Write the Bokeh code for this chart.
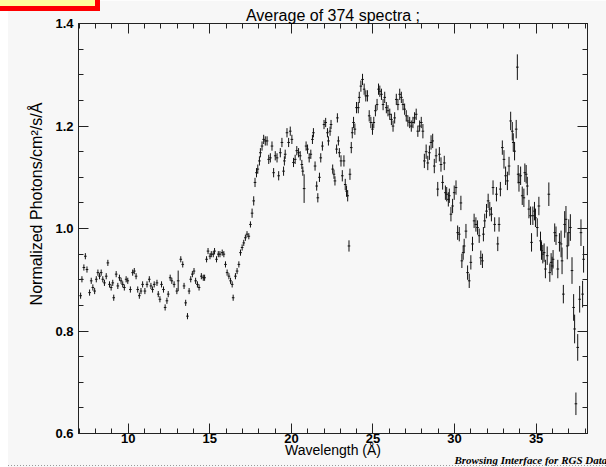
import numpy as np
from bokeh.plotting import figure
from bokeh.models import (LinearAxis, SingleIntervalTicker, Range1d, Title,
                          ColumnDataSource, PrintfTickFormatter,
                          CustomJSTickFormatter, InlineStyleSheet)
from bokeh.embed import file_html
from bokeh.resources import INLINE

# Averaged RGS spectrum: bin centre (Angstrom) and normalized flux
wavelength = [
    7.08, 7.16, 7.28, 7.37, 7.47, 7.63, 7.73, 7.83, 7.94, 8.04, 8.14, 8.24, 8.34, 8.44,
    8.54, 8.65, 8.75, 8.85, 8.95, 9.05, 9.11, 9.26, 9.36, 9.46, 9.56, 9.66, 9.76, 9.87,
    9.97, 10.13, 10.27, 10.37, 10.48, 10.58, 10.68, 10.78, 10.88, 11.02, 11.15, 11.29,
    11.39, 11.49, 11.59, 11.76, 11.84, 11.94, 12.04, 12.16, 12.26, 12.37, 12.45, 12.57,
    12.67, 12.81, 12.98, 13.06, 13.22, 13.34, 13.42, 13.52, 13.63, 13.73, 13.83, 13.93,
    14.03, 14.13, 14.24, 14.34, 14.48, 14.60, 14.68, 14.80, 14.89, 15.01, 15.09, 15.21,
    15.29, 15.41, 15.52, 15.62, 15.76, 15.86, 15.96, 16.06, 16.17, 16.27, 16.37, 16.43,
    16.57, 16.67, 16.78, 16.88, 16.98, 17.08, 17.18, 17.28, 17.39, 17.49, 17.59, 17.69,
    17.77, 17.86, 17.94, 18.04, 18.10, 18.20, 18.30, 18.40, 18.51, 18.61, 18.71, 18.81,
    18.91, 19.01, 19.12, 19.22, 19.32, 19.42, 19.52, 19.57, 19.62, 19.73, 19.83, 19.93,
    20.03, 20.13, 20.23, 20.33, 20.44, 20.54, 20.64, 20.70, 20.78, 20.90, 20.99, 21.09,
    21.19, 21.29, 21.35, 21.45, 21.55, 21.62, 21.72, 21.80, 21.90, 22.00, 22.10, 22.21,
    22.27, 22.37, 22.43, 22.53, 22.61, 22.67, 22.77, 22.82, 22.88, 22.94, 23.04, 23.12,
    23.22, 23.30, 23.38, 23.45, 23.53, 23.59, 23.67, 23.73, 23.81, 23.89, 23.99, 24.10,
    24.16, 24.26, 24.36, 24.46, 24.56, 24.66, 24.77, 24.87, 24.97, 25.05, 25.15, 25.25,
    25.34, 25.42, 25.52, 25.62, 25.72, 25.82, 25.92, 26.03, 26.13, 26.23, 26.33, 26.43,
    26.53, 26.64, 26.74, 26.84, 26.94, 27.04, 27.14, 27.25, 27.35, 27.45, 27.55, 27.65,
    27.75, 27.86, 27.96, 28.06, 28.15, 28.26, 28.36, 28.46, 28.56, 28.66, 28.76, 28.87,
    28.97, 29.07, 29.17, 29.27, 29.37, 29.44, 29.52, 29.62, 29.68, 29.78, 29.88, 29.98,
    30.09, 30.19, 30.29, 30.39, 30.45, 30.53, 30.59, 30.70, 30.80, 30.90, 31.00, 31.10,
    31.20, 31.31, 31.41, 31.51, 31.61, 31.71, 31.77, 31.85, 31.96, 32.06, 32.16, 32.26,
    32.36, 32.46, 32.57, 32.65, 32.73, 32.81, 32.93, 33.03, 33.13, 33.24, 33.34, 33.44,
    33.54, 33.60, 33.85, 33.68, 33.78, 33.90, 33.95, 34.05, 34.15, 34.25, 34.31, 34.39,
    34.46, 34.56, 34.66, 34.72, 34.80, 34.90, 34.96, 35.07, 35.17, 35.27, 35.33, 35.41,
    35.49, 35.57, 35.68, 35.78, 35.84, 35.92, 35.98, 36.04, 36.14, 36.22, 36.33, 36.43,
    36.53, 36.59, 36.67, 36.75, 36.83, 36.91, 37.00, 37.10, 37.20, 37.30, 37.36, 37.44,
    37.55, 37.67, 37.75, 37.85, 37.91,
]
flux = [
    0.869, 0.901, 0.924, 0.946, 0.920, 0.875, 0.898, 0.885, 0.878, 0.901, 0.914, 0.907, 0.914, 0.901,
    0.894, 0.907, 0.933, 0.891, 0.885, 0.894, 0.865, 0.911, 0.888, 0.904, 0.898, 0.891, 0.885, 0.901,
    0.898, 0.881, 0.914, 0.917, 0.907, 0.881, 0.869, 0.878, 0.891, 0.878, 0.891, 0.901,
    0.888, 0.881, 0.891, 0.894, 0.872, 0.862, 0.891, 0.881, 0.846, 0.859, 0.872, 0.904,
    0.898, 0.891, 0.878, 0.898, 0.940, 0.930, 0.888, 0.855, 0.829, 0.878, 0.901, 0.911,
    0.917, 0.898, 0.891, 0.885, 0.907, 0.904, 0.904, 0.940, 0.956, 0.946, 0.950, 0.950,
    0.956, 0.940, 0.950, 0.950, 0.953, 0.950, 0.930, 0.914, 0.907, 0.898, 0.891, 0.865,
    0.907, 0.917, 0.930, 0.953, 0.963, 0.972, 0.982, 0.989, 0.985, 1.008, 1.030, 1.054,
    1.090, 1.109, 1.116, 1.132, 1.148, 1.161, 1.174, 1.171, 1.171, 1.135, 1.138, 1.161,
    1.109, 1.142, 1.138, 1.103, 1.148, 1.168, 1.112, 1.132, 1.145, 1.187, 1.168, 1.190,
    1.174, 1.129, 1.135, 1.152, 1.148, 1.142, 1.125, 1.112, 1.078, 1.161, 1.155, 1.138,
    1.145, 1.174, 1.187, 1.122, 1.083, 1.060, 1.100, 1.138, 1.161, 1.203, 1.207, 1.187,
    1.171, 1.190, 1.203, 1.116, 1.106, 1.093, 1.155, 1.216, 1.171, 1.148, 1.132, 1.103,
    1.132, 1.086, 1.073, 1.064, 0.966, 1.106, 1.158, 1.187, 1.207, 1.194, 1.236, 1.236,
    1.256, 1.278, 1.291, 1.272, 1.259, 1.259, 1.220, 1.207, 1.194, 1.207, 1.230, 1.242,
    1.272, 1.268, 1.262, 1.242, 1.256, 1.236, 1.230, 1.223, 1.213, 1.200, 1.216, 1.252,
    1.242, 1.262, 1.256, 1.242, 1.233, 1.220, 1.210, 1.207, 1.200, 1.207, 1.216, 1.223,
    1.190, 1.200, 1.207, 1.190, 1.132, 1.150, 1.128, 1.148, 1.168, 1.171, 1.122, 1.142,
    1.077, 1.145, 1.125, 1.090, 1.128, 1.070, 1.067, 1.057, 1.064, 1.028, 1.044, 1.070,
    1.080, 0.992, 0.989, 1.050, 0.937, 0.953, 0.966, 0.995, 0.914, 0.898, 0.934, 0.970,
    1.015, 1.008, 1.002, 0.986, 0.943, 0.937, 0.989, 1.015, 1.034, 1.054, 1.038, 1.028,
    1.080, 1.008, 1.067, 0.970, 1.008, 1.077, 1.158, 1.135, 1.103, 1.093, 1.122, 1.210,
    1.190, 1.168, 1.315, 1.151, 1.194, 1.106, 1.090, 1.103, 1.064, 1.060, 1.109, 1.106,
    1.083, 1.038, 1.025, 0.973, 1.025, 1.034, 1.021, 1.002, 1.044, 0.976, 0.957, 0.950,
    0.953, 0.921, 0.947, 1.067, 0.914, 0.934, 0.927, 0.940, 0.992, 0.986, 0.921, 0.973,
    0.970, 0.937, 0.872, 1.008, 1.018, 0.966, 0.992, 1.002, 0.918, 0.846, 0.804, 0.658,
    0.768, 0.862, 0.992, 0.872, 0.940,
]

# 1-sigma errors, by wavelength band, plus a few noisier bins
err_band_edges = [6.9, 17.5, 23.0, 28.0, 33.0, 36.5, 38.2]
err_band_values = [0.006, 0.009, 0.011, 0.014, 0.018, 0.026]
noisy_bin_wavelength = [13.06, 20.78, 33.85, 35.78, 36.67, 37.36, 37.44]
noisy_bin_error = [0.020, 0.028, 0.025, 0.023, 0.018, 0.028, 0.022]
bin_half_width = 0.08

x_ticks_major = 5
y_ticks_major = 0.2

w = np.array(wavelength)
f = np.array(flux)
band = np.searchsorted(err_band_edges, w) - 1
err = np.array(err_band_values)[np.clip(band, 0, len(err_band_values) - 1)]
for wl, e in zip(noisy_bin_wavelength, noisy_bin_error):
    err[np.argmin(np.abs(w - wl))] = e

src = ColumnDataSource(dict(w=w, f=f, lo=f - err, hi=f + err,
                            wl=w - bin_half_width, wr=w + bin_half_width))

BG = "#F7F7F7"
INK = "#222222"
FONT = "Liberation Sans"

p = figure(width=606, height=467, output_backend="svg", toolbar_location=None,
           x_range=Range1d(6.95, 38.15), y_range=Range1d(0.6, 1.4002),
           min_border_left=78, min_border_right=19, min_border_top=23,
           min_border_bottom=34, background_fill_color=BG, border_fill_color=BG,
           title="Average of 374 spectra ;")

p.title.align = "center"
p.title.text_font = FONT
p.title.text_font_size = "16px"
p.title.text_font_style = "normal"
p.title.text_color = "#000000"
p.title.standoff = 0
p.title.offset = 0

p.xgrid.visible = False
p.ygrid.visible = False
p.outline_line_color = INK

# error bars and bin widths
p.segment(x0="w", y0="lo", x1="w", y1="hi", source=src, line_color="#111111", line_width=1)
p.segment(x0="wl", y0="f", x1="wr", y1="f", source=src, line_color="#111111", line_width=1)


def style_axis(ax, show_labels=True):
    ax.axis_line_color = INK
    ax.major_tick_line_color = INK
    ax.minor_tick_line_color = INK
    ax.major_tick_in = 10
    ax.major_tick_out = 0
    ax.minor_tick_in = 5
    ax.minor_tick_out = 0
    if show_labels:
        ax.major_label_text_font = FONT
        ax.major_label_text_font_size = "13px"
        ax.major_label_text_font_style = "bold"
        ax.major_label_text_color = "#000000"
        ax.axis_label_text_font = FONT
        ax.axis_label_text_font_size = "13px"
        ax.axis_label_text_font_style = "normal"
        ax.axis_label_text_color = "#000000"
    else:
        ax.formatter = CustomJSTickFormatter(code="return ''")
        ax.major_label_standoff = 0
        ax.axis_label = None


xt = SingleIntervalTicker(interval=x_ticks_major, num_minor_ticks=5)
yt = SingleIntervalTicker(interval=y_ticks_major, num_minor_ticks=4)

p.xaxis.ticker = xt
p.yaxis.ticker = yt
p.yaxis.formatter = PrintfTickFormatter(format="%.1f")
p.xaxis.axis_label = "Wavelength (Å)"
# leading no-break spaces lift the rotated title a little above the frame centre
p.yaxis.axis_label = "\u00a0" * 11 + "Normalized Photons/cm²/s/Å"
style_axis(p.xaxis[0])
style_axis(p.yaxis[0])
p.xaxis.axis_label_text_font_size = "14px"
p.yaxis.axis_label_text_font_size = "16px"
p.xaxis.major_label_standoff = 0
p.xaxis.axis_label_standoff = -4
p.yaxis.major_label_standoff = 5
p.yaxis.axis_label_standoff = 7

top_axis = LinearAxis(ticker=SingleIntervalTicker(interval=x_ticks_major, num_minor_ticks=5))
style_axis(top_axis, show_labels=False)
p.add_layout(top_axis, "above")
right_axis = LinearAxis(ticker=SingleIntervalTicker(interval=y_ticks_major, num_minor_ticks=4))
style_axis(right_axis, show_labels=False)
p.add_layout(right_axis, "right")

# credit line under the x axis, tucked up beside the axis title
p.add_layout(Title(text="Browsing Interface for RGS Data", align="left", offset=376,
                   vertical_align="top", standoff=-14, padding=0,
                   text_font="Liberation Serif", text_font_style="bold italic",
                   text_font_size="11px", text_color="#000000"), "below")

# page furniture around the figure: button edge at top left, white margin
# strip on the left and a dotted rule along the bottom edge
p.stylesheets = [InlineStyleSheet(css="""
:host { position: relative; }
:host::before {
  content: ""; position: absolute; left: -10px; top: -10px;
  width: 100px; height: 11px; background: #FFFF99;
  border: 5px solid #FF0000; z-index: 51; pointer-events: none;
}
:host::after {
  content: ""; position: absolute; left: 0; top: 0; width: 598px; height: 467px;
  border-left: 8px solid #FFFFFF;
  background: repeating-linear-gradient(90deg, #9A9A9A 0 1px, transparent 1px 3px)
              0 465px / 100% 1px no-repeat;
  z-index: 50; pointer-events: none;
}
""")]

open("out.html", "w").write(file_html(p, INLINE))
